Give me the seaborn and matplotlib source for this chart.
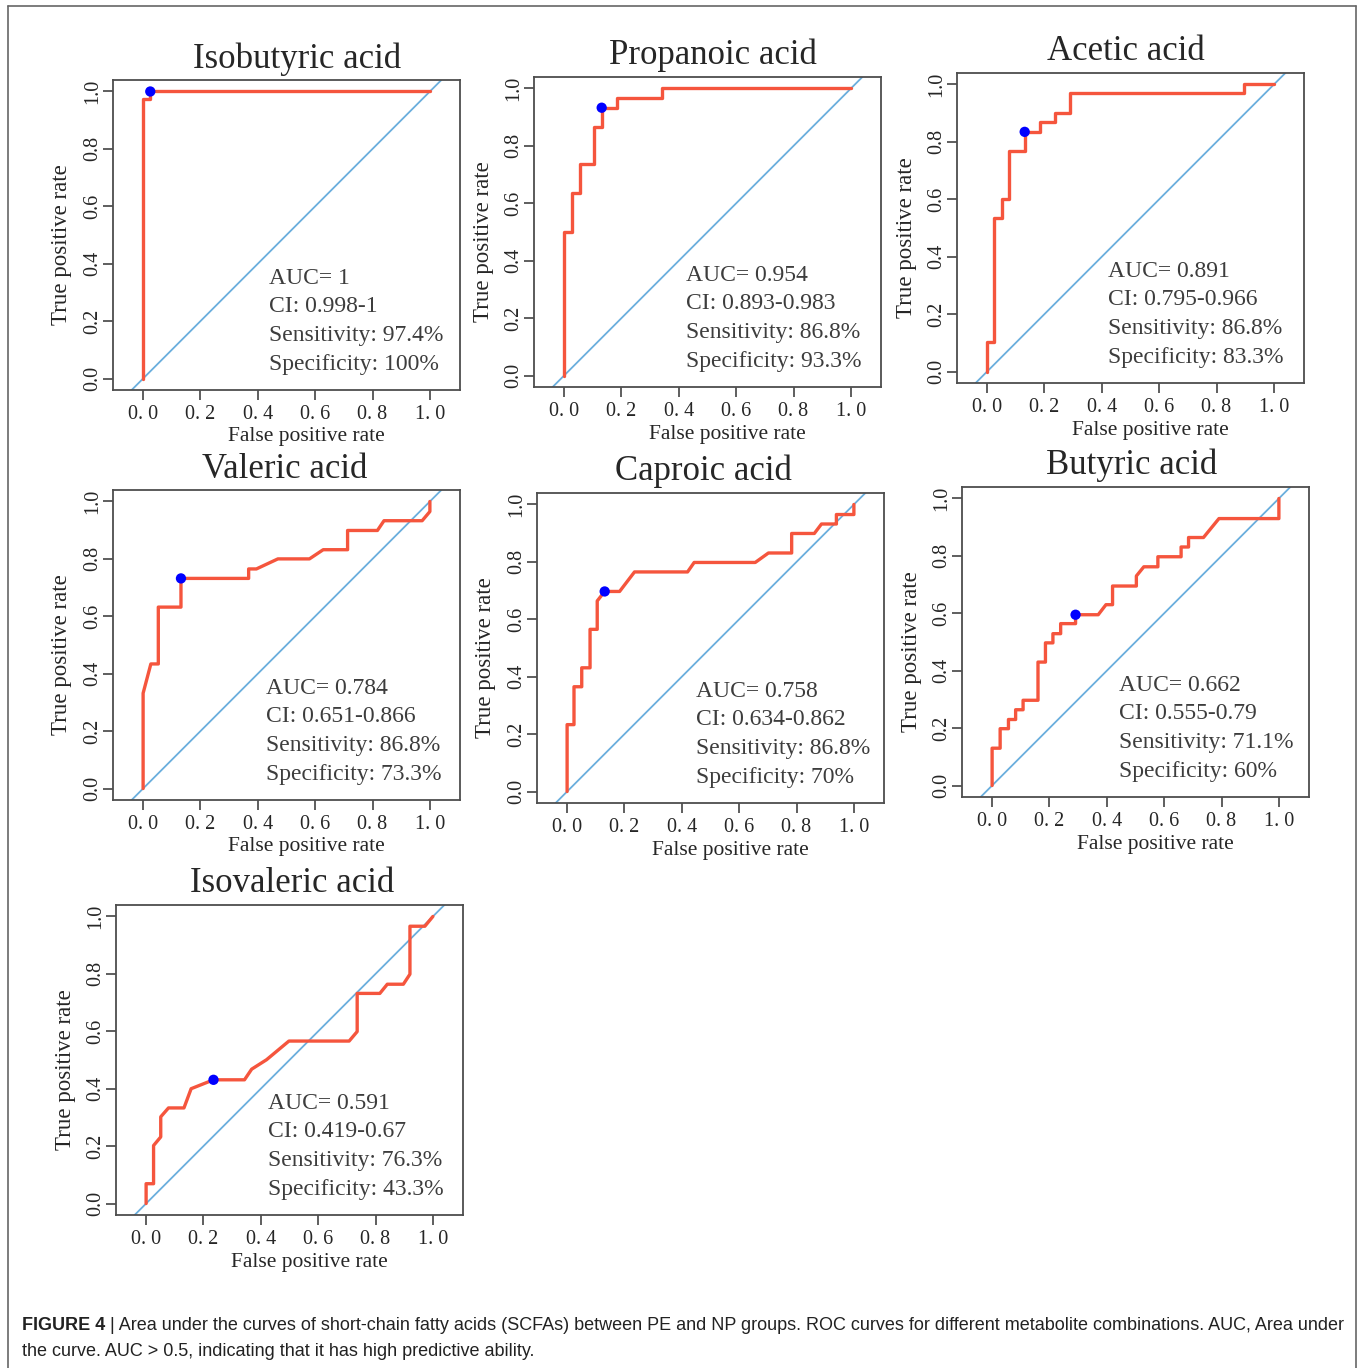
import matplotlib
matplotlib.use("Agg")
import matplotlib.pyplot as plt
from matplotlib.lines import Line2D
import pandas as pd
import seaborn as sns

# ROC curves (false positive rate, true positive rate)
names = ["Isobutyric acid", "Propanoic acid", "Acetic acid", "Valeric acid",
         "Caproic acid", "Butyric acid", "Isovaleric acid"]

isobutyric_fpr = [0, 0, 0.025, 0.025, 1.0]
isobutyric_tpr = [0, 0.974, 0.974, 1.0, 1.0]

propanoic_fpr = [0, 0, 0.027, 0.027, 0.056, 0.056, 0.104, 0.104, 0.131, 0.131,
                 0.183, 0.183, 0.341, 0.341, 1.0]
propanoic_tpr = [0, 0.5, 0.5, 0.637, 0.637, 0.736, 0.736, 0.867, 0.867, 0.933,
                 0.933, 0.968, 0.968, 1.0, 1.0]

acetic_fpr = [0, 0, 0.024, 0.024, 0.051, 0.051, 0.078, 0.078, 0.131, 0.131,
              0.183, 0.183, 0.238, 0.238, 0.290, 0.290, 0.896, 0.896, 1.0]
acetic_tpr = [0, 0.104, 0.104, 0.535, 0.535, 0.601, 0.601, 0.769, 0.769, 0.835,
              0.835, 0.869, 0.869, 0.902, 0.902, 0.969, 0.969, 1.0, 1.0]

valeric_fpr = [0, 0, 0.027, 0.053, 0.053, 0.132, 0.132, 0.368, 0.368, 0.395,
               0.470, 0.580, 0.628, 0.713, 0.713, 0.817, 0.840, 0.973, 1.0, 1.0]
valeric_tpr = [0, 0.332, 0.434, 0.434, 0.632, 0.632, 0.732, 0.732, 0.765, 0.765,
               0.800, 0.800, 0.832, 0.832, 0.899, 0.899, 0.933, 0.933, 0.965, 1.0]

caproic_fpr = [0, 0, 0.024, 0.024, 0.051, 0.051, 0.080, 0.080, 0.105, 0.105,
               0.131, 0.183, 0.235, 0.420, 0.443, 0.656, 0.702, 0.783, 0.783,
               0.862, 0.887, 0.939, 0.939, 1.0, 1.0]
caproic_tpr = [0, 0.233, 0.233, 0.365, 0.365, 0.431, 0.431, 0.565, 0.565, 0.664,
               0.697, 0.697, 0.765, 0.765, 0.798, 0.798, 0.831, 0.831, 0.899,
               0.899, 0.932, 0.932, 0.965, 0.965, 1.0]

butyric_fpr = [0, 0, 0.028, 0.028, 0.057, 0.057, 0.082, 0.082, 0.108, 0.108,
               0.160, 0.160, 0.186, 0.186, 0.212, 0.212, 0.239, 0.239, 0.291,
               0.291, 0.370, 0.397, 0.420, 0.420, 0.503, 0.503, 0.529, 0.578,
               0.578, 0.659, 0.659, 0.685, 0.685, 0.737, 0.791, 1.0, 1.0]
butyric_tpr = [0, 0.130, 0.130, 0.198, 0.198, 0.230, 0.230, 0.264, 0.264, 0.297,
               0.297, 0.430, 0.430, 0.497, 0.497, 0.529, 0.529, 0.564, 0.564,
               0.595, 0.595, 0.630, 0.630, 0.695, 0.695, 0.730, 0.762, 0.762,
               0.797, 0.797, 0.831, 0.831, 0.864, 0.864, 0.930, 0.930, 1.0]

isovaleric_fpr = [0, 0, 0.026, 0.026, 0.051, 0.051, 0.078, 0.132, 0.157, 0.235,
                  0.343, 0.368, 0.420, 0.498, 0.708, 0.736, 0.736, 0.815, 0.841,
                  0.897, 0.920, 0.920, 0.972, 1.0]
isovaleric_tpr = [0, 0.069, 0.069, 0.202, 0.232, 0.302, 0.333, 0.333, 0.400, 0.431,
                  0.431, 0.468, 0.501, 0.566, 0.566, 0.599, 0.732, 0.732, 0.764,
                  0.764, 0.799, 0.966, 0.966, 1.0]

best_fpr = [0.025, 0.131, 0.131, 0.132, 0.131, 0.291, 0.235]
best_tpr = [1.0, 0.933, 0.835, 0.732, 0.697, 0.595, 0.431]

auc_text = ["1", "0.954", "0.891", "0.784", "0.758", "0.662", "0.591"]
ci_text = ["0.998-1", "0.893-0.983", "0.795-0.966", "0.651-0.866",
           "0.634-0.862", "0.555-0.79", "0.419-0.67"]
sens_text = ["97.4%", "86.8%", "86.8%", "86.8%", "86.8%", "71.1%", "76.3%"]
spec_text = ["100%", "93.3%", "83.3%", "73.3%", "70%", "60%", "43.3%"]

x_ticks = [0, 0.2, 0.4, 0.6, 0.8, 1.0]
x_tick_labels = ["0. 0", "0. 2", "0. 4", "0. 6", "0. 8", "1. 0"]
y_tick_labels = ["0.0", "0.2", "0.4", "0.6", "0.8", "1.0"]

curves = [(isobutyric_fpr, isobutyric_tpr), (propanoic_fpr, propanoic_tpr),
          (acetic_fpr, acetic_tpr), (valeric_fpr, valeric_tpr),
          (caproic_fpr, caproic_tpr), (butyric_fpr, butyric_tpr),
          (isovaleric_fpr, isovaleric_tpr)]

# axes placement in pixels: left, top
panel_px = [(113, 80), (534, 77), (957, 73), (113, 490), (537, 493),
            (962, 487), (116, 905)]
# title centre offset from axes centre (px), and text-block x in data units
title_shift = [11, 5, -5, -2, -7, -4, 3]
text_x = [0.44, 0.424, 0.42, 0.427, 0.45, 0.443, 0.425]

sns.set_style("ticks")
plt.rcParams["font.family"] = ["Liberation Serif", "DejaVu Serif"]

W, H = 1360, 1368
fig = plt.figure(figsize=(W / 100, H / 100), dpi=100)

RED = "#F5553D"
BLUE_LINE = "#6AAEDD"
FRAME = "#4d4d4d"
AX_W, AX_H = 347, 310

for i, name in enumerate(names):
    left, top = panel_px[i]
    ax = fig.add_axes([left / W, 1 - (top + AX_H) / H, AX_W / W, AX_H / H])
    fpr, tpr = curves[i]
    df = pd.DataFrame({"fpr": fpr, "tpr": tpr})

    ax.axline((0, 0), (1, 1), color=BLUE_LINE, lw=1.3, zorder=1)
    sns.lineplot(data=df, x="fpr", y="tpr", sort=False, estimator=None,
                 color=RED, lw=2.4, ax=ax, zorder=2)
    sns.scatterplot(x=[best_fpr[i]], y=[best_tpr[i]], color="#0000FF",
                    s=55, edgecolor="none", ax=ax, zorder=3)

    ax.set_xlim(-0.105, 1.105)
    ax.set_ylim(-0.04, 1.04)
    ax.set_xticks(x_ticks)
    ax.set_xticklabels(x_tick_labels, fontsize=14.5)
    ax.set_yticks(x_ticks)
    ax.set_yticklabels(y_tick_labels, fontsize=14.5, rotation=90, va="center")
    ax.tick_params(length=7, width=1.1, color="#333333")
    ax.tick_params(axis="x", pad=4)
    ax.tick_params(axis="y", pad=1)
    for sp in ax.spines.values():
        sp.set_visible(True)
        sp.set_color(FRAME)
        sp.set_linewidth(1.3)

    ax.set_xlabel("False positive rate", fontsize=15.5, va="center")
    ax.xaxis.set_label_coords(0.558, -47 / AX_H)
    ax.set_ylabel("True positive rate", fontsize=16.5, va="center")
    ax.yaxis.set_label_coords(-51 / AX_W, 0.47)

    ax.set_title(name, fontsize=25, pad=9,
                 x=0.5 + title_shift[i] / AX_W)

    lines = [f"AUC= {auc_text[i]}", f"CI: {ci_text[i]}",
             f"Sensitivity: {sens_text[i]}", f"Specificity: {spec_text[i]}"]
    for k, line in enumerate(lines):
        ax.text(text_x[i], 0.35 - k * 0.1, line, fontsize=17, color="#3d3d3d",
                va="center", ha="left")

# outer frame of the figure panel
for xs, ys in [([8, 8], [1368, 6]), ([8, 1356], [6, 6]), ([1356, 1356], [6, 1368])]:
    fig.add_artist(Line2D([x / W for x in xs], [1 - y / H for y in ys],
                          color="#666666", lw=1.2))

# caption
cap_font = ["Liberation Sans", "DejaVu Sans"]
cap_size = 12.95
bold = fig.text(22 / W, 1 - 1325 / H, "FIGURE 4", fontsize=cap_size, fontweight="bold",
                family=cap_font, va="center", color="#222222")
fig.add_artist(plt.Annotation(
    " | Area under the curves of short-chain fatty acids (SCFAs) between PE and NP groups. "
    "ROC curves for different metabolite combinations. AUC, Area under",
    xy=(1, 0.5), xycoords=bold, va="center", ha="left",
    fontsize=cap_size, family=cap_font, color="#222222", annotation_clip=False))
fig.text(22 / W, 1 - 1351 / H,
         "the curve. AUC > 0.5, indicating that it has high predictive ability.",
         fontsize=cap_size, family=cap_font, va="center", color="#222222")

fig.savefig("out.png", dpi=100, facecolor="white")
